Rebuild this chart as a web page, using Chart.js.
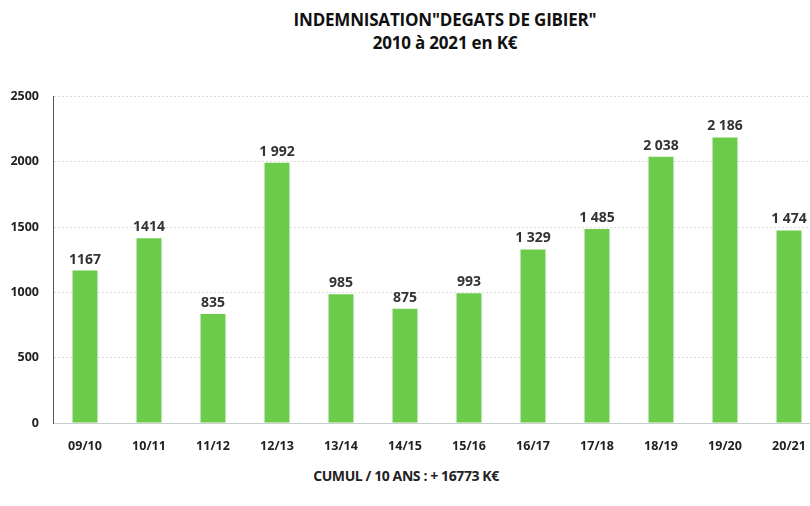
<!DOCTYPE html>
<html>
<head>
<meta charset="utf-8">
<script src="https://cdn.jsdelivr.net/npm/chart.js@4.4.0/dist/chart.umd.min.js"></script>
<style>
  html, body { margin:0; padding:0; background:#fff; overflow:hidden; width:810px; height:506px; }
  body { font-family: "Open Sans", Lato, sans-serif; color:#111; position:relative; }
  #titre { position:absolute; top:8px; left:245px; width:400px; text-align:center; font-weight:bold; line-height:23px; font-size:17px; letter-spacing:-0.2px; }
  #wrap { position:absolute; left:0; top:75px; width:821px; height:385px; }
  #cumul { position:absolute; top:466px; left:256px; width:300px; text-align:center; font-size:14px; font-weight:bold; color:#222; letter-spacing:-0.4px; }
</style>
</head>
<body>
<div id="titre"><div>INDEMNISATION"DEGATS DE GIBIER"</div><div>2010 à 2021 en K€</div></div>
<div id="wrap"><canvas id="graf"></canvas></div>
<div id="cumul">CUMUL / 10 ANS : + 16773 K€</div>
<script>
// données
const saisons = ['09/10','10/11','11/12','12/13','13/14','14/15','15/16','16/17','17/18','18/19','19/20','20/21'];
const montants = [1167, 1414, 835, 1992, 985, 875, 993, 1329, 1485, 2038, 2186, 1474];
const etiquettes = ['1167','1414','835','1 992','985','875','993','1 329','1 485','2 038','2 186','1 474'];
const graduations = [0, 500, 1000, 1500, 2000, 2500];

// petites étiquettes au-dessus des barres
const pluginEtiquettes = {
  id:'etiquettes',
  afterDatasetsDraw(chart){
    const ctx = chart.ctx;
    const meta = chart.getDatasetMeta(0);
    ctx.save();
    ctx.font = 'bold 14px "Open Sans", Lato, sans-serif';
    ctx.fillStyle = '#333';
    ctx.textAlign = 'center';
    ctx.textBaseline = 'bottom';
    meta.data.forEach((bar,i)=>{
      ctx.fillText(etiquettes[i], bar.x, bar.y - 4);
    });
    ctx.restore();
  }
};

const ctx = document.getElementById('graf').getContext('2d');
new Chart(ctx,{
  type:'bar',
  data:{
    labels:saisons,
    datasets:[{
      data:montants,
      backgroundColor:'#6dcb4c',
      barPercentage:0.39,
      categoryPercentage:1
    }]
  },
  options:{
    responsive:true,
    maintainAspectRatio:false,
    animation:false,
    layout:{padding:{top:13,left:0,right:0,bottom:0}},
    plugins:{legend:{display:false},tooltip:{enabled:false}},
    scales:{
      x:{
        grid:{display:false},
        border:{display:true,color:'#ccc'},
        ticks:{color:'#222',font:{size:12.5,weight:'bold',family:'Open Sans'},padding:8},
        afterFit(s){ s.height = 37; }
      },
      y:{
        min:0,max:2500,
        afterBuildTicks(s){ s.ticks = graduations.map(v=>({value:v})); },
        grid:{color:'#dcdcdc',drawTicks:false},
        border:{display:true,color:'#555',dash:[2,2]},
        ticks:{color:'#222',font:{size:12.5,weight:'bold',family:'Open Sans'},padding:14,callback:v=>String(v)},
        afterFit(s){ s.width = 53; }
      }
    }
  },
  plugins:[pluginEtiquettes]
});
</script>
</body>
</html>
